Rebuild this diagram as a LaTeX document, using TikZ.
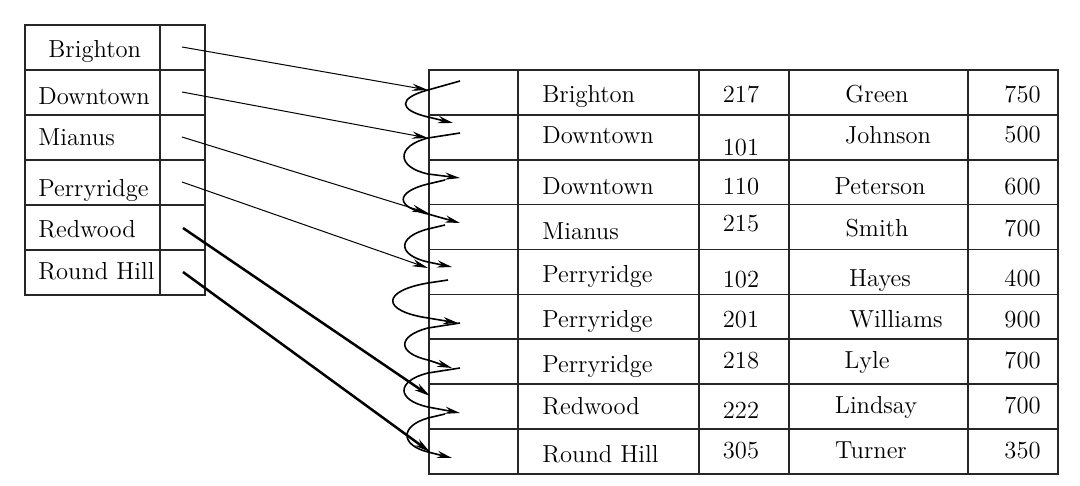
\documentclass[tikz,border=0pt]{standalone}
\usetikzlibrary{arrows.meta}
\begin{document}
\begin{tikzpicture}[x=0.5pt,y=-0.5pt,
  cell/.style={draw=black!85, line width=0.9pt, inner sep=0pt, anchor=north west},
  txt/.style={inner sep=0pt, font=\fontsize{12.3}{14}\selectfont},
  idx/.style={-{Stealth[length=8pt,width=3.6pt]}, line width=0.5pt},
  idxthick/.style={-{Stealth[length=8pt,width=3.8pt]}, line width=1.25pt},
  chainarrow/.style={-{Stealth[length=7.5pt,width=3.6pt]}, line width=0.8pt}]
\useasboundingbox (0,0) rectangle (1080,486);

% left index table
\foreach \i in {1,...,6}{
  \node[cell, minimum width=67.5pt, minimum height=22.5pt] (lk\i) at (24,{24+45*(\i-1)}) {};
  \node[cell, minimum width=22.5pt, minimum height=22.5pt] (lp\i) at (159,{24+45*(\i-1)}) {};
}
\node[txt, anchor=base west] (tk1) at (48,58) {Brighton};
\node[txt, anchor=base west] (tk2) at (38,105) {Downtown};
\node[txt, anchor=base west] (tk3) at (38,146) {Mianus};
\node[txt, anchor=base west] (tk4) at (38,197) {Perryridge};
\node[txt, anchor=base west] (tk5) at (38,237) {Redwood};
\node[txt, anchor=base west] (tk6) at (38,279) {Round Hill};

% right file table
\foreach \i in {1,...,9}{
  \node[cell, minimum width=44.5pt, minimum height=22.45pt] (rp\i) at (428,{69+44.9*(\i-1)}) {};
  \node[cell, minimum width=90.5pt, minimum height=22.45pt] (rb\i) at (517,{69+44.9*(\i-1)}) {};
  \node[cell, minimum width=45pt,   minimum height=22.45pt] (rn\i) at (698,{69+44.9*(\i-1)}) {};
  \node[cell, minimum width=89.5pt, minimum height=22.45pt] (rc\i) at (788,{69+44.9*(\i-1)}) {};
  \node[cell, minimum width=45pt,   minimum height=22.45pt] (rv\i) at (967,{69+44.9*(\i-1)}) {};
}
% branch names
\foreach \n/\y/\t in {1/103/Brighton, 2/144/Downtown, 3/195/Downtown, 4/240/Mianus,
  5/282/Perryridge, 6/327/Perryridge, 7/372/Perryridge, 8/414/Redwood, 9/462/Round Hill}{
  \node[txt, anchor=base west] (tb\n) at (542,\y) {\t};
}
% account numbers
\foreach \n/\y/\t in {1/103/217, 2/156/101, 3/195/110, 4/232/215, 5/287/102,
  6/327/201, 7/368/218, 8/418/222, 9/458/305}{
  \node[txt, anchor=base] (tn\n) at (741,\y) {\t};
}
% customer names
\foreach \n/\x/\y/\t in {1/877/103/Green, 2/888/144/Johnson, 3/880/195/Peterson, 4/877/236/Smith,
  5/880/286/Hayes, 6/896/327/Williams, 7/867/368/Lyle, 8/876/413/Lindsay, 9/871/458/Turner}{
  \node[txt, anchor=base] (tc\n) at (\x,\y) {\t};
}
% balances
\foreach \n/\y/\t in {1/103/750, 2/143/500, 3/195/600, 4/236/700, 5/286/400,
  6/327/900, 7/368/700, 8/413/700, 9/458/350}{
  \node[txt, anchor=base east] (tv\n) at (1041,\y) {\t};
}

% index pointers
\coordinate (ls1) at (182,47);  \coordinate (ie1) at (428,90);
\coordinate (ls2) at (182,92);  \coordinate (ie2) at (428,138);
\coordinate (ls3) at (182,137); \coordinate (ie4) at (428,213);
\coordinate (ls4) at (182,182); \coordinate (ie5) at (428,268);
\coordinate (ls5) at (183,228); \coordinate (ie8) at (430,396);
\coordinate (ls6) at (183,272); \coordinate (ie9) at (430,452);
\draw[idx] (ls1) -- (ie1);
\draw[idx] (ls2) -- (ie2);
\draw[idx] (ls3) -- (ie4);
\draw[idx] (ls4) -- (ie5);
\draw[idxthick] (ls5) -- (ie8);
\draw[idxthick] (ls6) -- (ie9);

% record chain pointers
\foreach \n/\sx/\sy/\a/\c/\b/\ex/\ey in {
  1/460/81/90/398/117/453/123,
  2/460/133/138/396/174/460/178,
  3/445/180/184/395/214/460/223,
  4/445/225/229/397/262/452/267,
  5/448/280/283/381/318/458/323,
  6/460/323/328/397/360/452/368,
  7/460/368/373/396/407/460/413,
  8/445/414/418/400/452/452/458}{
  \coordinate (cs\n) at (\sx,\sy);
  \coordinate (ce\n) at (\ex,\ey);
  \draw[chainarrow] (cs\n) -- (428,\a) .. controls (\c,{\a+8}) and (\c,{\b-7}) .. (428,\b) -- (ce\n);
}
\end{tikzpicture}
\end{document}
